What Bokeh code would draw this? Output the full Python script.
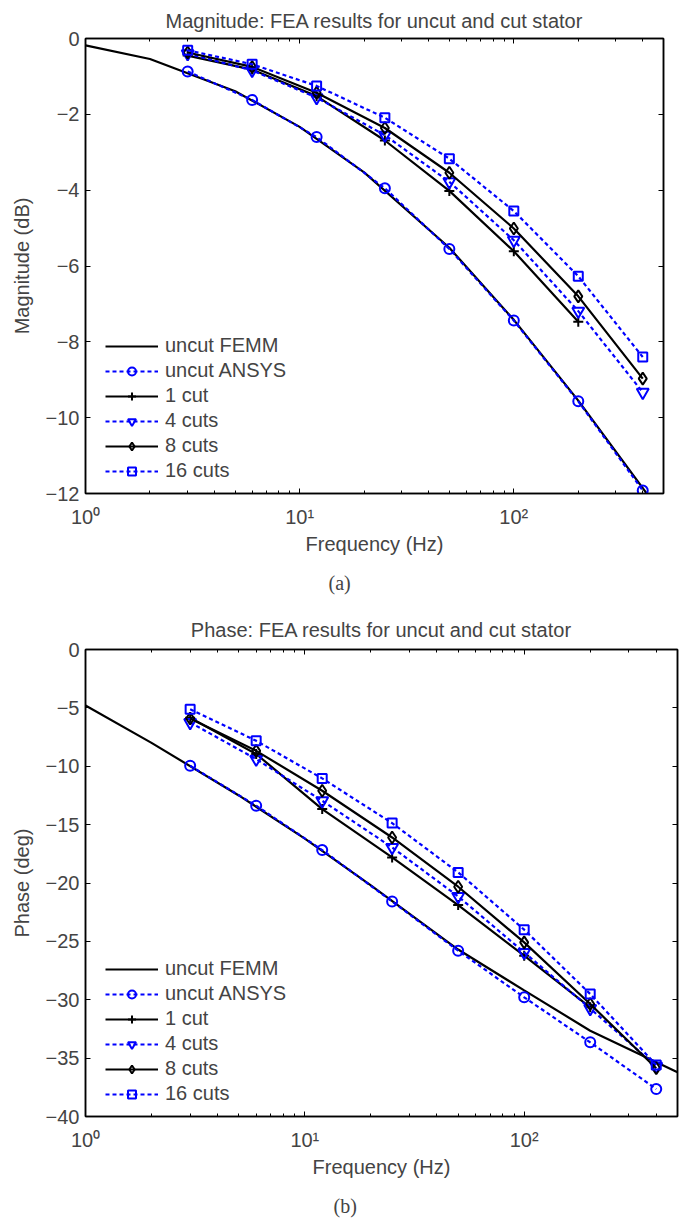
from bokeh.plotting import figure
from bokeh.models import Range1d, LogAxis, LinearAxis, FixedTicker, Legend, LegendItem, Title
from bokeh.layouts import column
from bokeh.embed import file_html
from bokeh.resources import INLINE

# ---------------- data ----------------
freq_femm = [1, 2, 5, 10, 20, 50, 100, 200, 500]
freq_fea = [3, 6, 12, 25, 50, 100, 200, 400]
freq_1cut = [3, 6, 12, 25, 50, 100, 200]

mag_femm = [-0.18, -0.54, -1.39, -2.33, -3.53, -5.52, -7.42, -9.55, -12.6]
mag_ansys = [-0.87, -1.62, -2.60, -3.95, -5.55, -7.44, -9.57, -11.92]
mag_1cut = [-0.45, -0.82, -1.52, -2.69, -4.02, -5.61, -7.47]
mag_4cuts = [-0.40, -0.84, -1.56, -2.55, -3.78, -5.32, -7.19, -9.33]
mag_8cuts = [-0.37, -0.75, -1.43, -2.36, -3.54, -5.01, -6.80, -8.97]
mag_16cuts = [-0.31, -0.68, -1.25, -2.09, -3.17, -4.55, -6.27, -8.40]

phase_femm = [-4.8, -8.0, -12.5, -16.2, -20.2, -25.7, -29.2, -32.65, -36.2]
phase_ansys = [-9.96, -13.38, -17.18, -21.58, -25.8, -29.79, -33.65, -37.65]
phase_1cut = [-5.85, -8.95, -13.67, -17.81, -21.89, -26.23, -30.65]
phase_4cuts = [-6.25, -9.39, -12.96, -16.95, -21.15, -25.94, -30.75, -35.7]
phase_8cuts = [-5.91, -8.68, -12.1, -16.1, -20.32, -25.09, -30.37, -35.87]
phase_16cuts = [-5.11, -7.82, -11.04, -14.87, -19.09, -24.0, -29.51, -35.59]

x_major = [1, 10, 100]
x_minor = [2, 3, 4, 5, 6, 7, 8, 9, 20, 30, 40, 50, 60, 70, 80, 90, 200, 300, 400]
x_labels = {1: "10\u2070", 10: "10\u00b9", 100: "10\u00b2"}

mag_ticks = [-12, -10, -8, -6, -4, -2, 0]
phase_ticks = [-40, -35, -30, -25, -20, -15, -10, -5, 0]

labels = ["uncut FEMM", "uncut ANSYS", "1 cut", "4 cuts", "8 cuts", "16 cuts"]

SANS = "Liberation Sans"
SERIF = "Liberation Serif"
BLUE = "#0000ff"
FS = "20px"


def minus(t):
    return "\u2212" + str(abs(t)) if t < 0 else str(t)


def make_fig(title, ylabel, caption, y_range, yticks, ys, frame_w, frame_h,
             b_left, b_top, b_bottom, b_right, title_standoff, cap_offset, cap_standoff):
    femm, ansys, c1, c4, c8, c16 = ys
    p = figure(x_axis_type="log", x_range=Range1d(1, 500), y_range=Range1d(*y_range),
               frame_width=frame_w, frame_height=frame_h,
               min_border_left=b_left, min_border_top=b_top,
               min_border_bottom=b_bottom, min_border_right=b_right,
               output_backend="svg", toolbar_location=None)
    p.xgrid.grid_line_color = None
    p.ygrid.grid_line_color = None
    p.outline_line_color = "black"
    p.outline_line_width = 1.5
    p.background_fill_color = "white"
    p.border_fill_color = "white"

    p.title.text = title
    p.title.text_font = SANS
    p.title.text_font_size = FS
    p.title.text_font_style = "normal"
    p.title.align = "center"
    p.title.standoff = title_standoff

    xt = FixedTicker(ticks=x_major, minor_ticks=x_minor)
    yt = FixedTicker(ticks=yticks)

    xa = p.xaxis[0]
    xa.ticker = xt
    xa.major_label_overrides = x_labels
    xa.axis_label = "Frequency (Hz)"
    ya = p.yaxis[0]
    ya.ticker = yt
    ya.major_label_overrides = {t: minus(t) for t in yticks}
    ya.axis_label = ylabel
    for ax in (xa, ya):
        ax.major_label_text_font = SANS
        ax.major_label_text_font_size = FS
        ax.axis_label_text_font = SANS
        ax.axis_label_text_font_size = FS
        ax.axis_label_text_font_style = "normal"
        ax.major_tick_in = 5
        ax.major_tick_out = 0
        ax.minor_tick_in = 3
        ax.minor_tick_out = 0
        ax.axis_line_width = 1.5
        ax.major_tick_line_width = 1
    xa.major_label_standoff = 12
    xa.axis_label_standoff = 2
    ya.major_label_standoff = 6
    ya.axis_label_standoff = 10
    ya.minor_tick_line_color = None

    top = LogAxis(ticker=xt, major_label_text_font_size="1px", major_label_text_alpha=0,
                  major_label_standoff=0,
                  major_tick_in=5, major_tick_out=0, minor_tick_in=3, minor_tick_out=0,
                  axis_line_width=1.5)
    right = LinearAxis(ticker=yt, major_label_text_font_size="1px", major_label_text_alpha=0,
                       major_label_standoff=0,
                       major_tick_in=5, major_tick_out=0, minor_tick_line_color=None,
                       axis_line_width=1.5)
    p.add_layout(top, "above")
    p.add_layout(right, "right")

    dots = "4 3"
    lw = 2.2
    r_femm = p.line(freq_femm, femm, line_color="black", line_width=lw)
    l_an = p.line(freq_fea, ansys, line_color=BLUE, line_width=lw, line_dash=dots)
    s_an = p.scatter(freq_fea, ansys, marker="circle", size=10, line_color=BLUE,
                     line_width=2, fill_color=None)
    l_1 = p.line(freq_1cut, c1, line_color="black", line_width=lw)
    s_1 = p.scatter(freq_1cut, c1, marker="cross", size=10, line_color="black", line_width=2)
    l_4 = p.line(freq_fea, c4, line_color=BLUE, line_width=lw, line_dash=dots)
    s_4 = p.scatter(freq_fea, c4, marker="inverted_triangle", size=12, line_color=BLUE,
                    line_width=2, fill_color=None)
    l_8 = p.line(freq_fea, c8, line_color="black", line_width=lw)
    s_8 = p.scatter(freq_fea, c8, marker="diamond", size=12, line_color="black",
                    line_width=2, fill_color=None)
    l_16 = p.line(freq_fea, c16, line_color=BLUE, line_width=lw, line_dash=dots)
    s_16 = p.scatter(freq_fea, c16, marker="square", size=9, line_color=BLUE,
                     line_width=2, fill_color=None)

    items = [LegendItem(label=labels[0], renderers=[r_femm]),
             LegendItem(label=labels[1], renderers=[l_an, s_an]),
             LegendItem(label=labels[2], renderers=[l_1, s_1]),
             LegendItem(label=labels[3], renderers=[l_4, s_4]),
             LegendItem(label=labels[4], renderers=[l_8, s_8]),
             LegendItem(label=labels[5], renderers=[l_16, s_16])]
    leg = Legend(items=items, location=(20, 11), border_line_color=None,
                 background_fill_alpha=0, padding=0, margin=0, spacing=2,
                 glyph_width=53, glyph_height=20, label_height=20, label_standoff=7,
                 label_text_font=SANS, label_text_font_size=FS)
    p.add_layout(leg)

    cap = Title(text=caption, align="left", text_font=SERIF, text_font_size=FS,
                text_font_style="normal", offset=cap_offset, standoff=cap_standoff)
    p.add_layout(cap, "below")
    return p


p1 = make_fig("Magnitude: FEA results for uncut and cut stator", "Magnitude (dB)", "(a)",
              (-12, 0), mag_ticks,
              (mag_femm, mag_ansys, mag_1cut, mag_4cuts, mag_8cuts, mag_16cuts),
              578, 455, 84, 38, 110, 12, 13, 243, 25)
p2 = make_fig("Phase: FEA results for uncut and cut stator", "Phase (deg)", "(b)",
              (-40, 0), phase_ticks,
              (phase_femm, phase_ansys, phase_1cut, phase_4cuts, phase_8cuts, phase_16cuts),
              592, 467, 85, 43, 104, 3, 17, 248, 24)

layout = column(p1, p2, spacing=0)
open("out.html", "w").write(file_html(layout, INLINE))
